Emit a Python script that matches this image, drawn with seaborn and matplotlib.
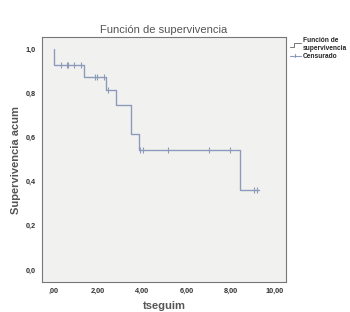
import numpy as np
import pandas as pd
import matplotlib
matplotlib.use("Agg")
import matplotlib.pyplot as plt
import seaborn as sns
from matplotlib.lines import Line2D
from matplotlib.legend_handler import HandlerBase

# Data
event_times = [0.0, 0.0, 1.35, 2.37, 2.79, 3.51, 3.83, 8.43, 9.27]
surv_values = [1.0, 0.929, 0.876, 0.815, 0.747, 0.614, 0.542, 0.36, 0.36]
censor_times = [0.32, 0.59, 0.65, 0.90, 1.22, 1.85, 1.93, 2.27, 2.45,
                3.91, 4.03, 5.18, 7.04, 7.96, 9.04, 9.18]
x_ticks = [0, 2, 4, 6, 8, 10]
x_labels = [",00", "2,00", "4,00", "6,00", "8,00", "10,00"]
y_ticks = [0.0, 0.2, 0.4, 0.6, 0.8, 1.0]
y_labels = ["0,0", "0,2", "0,4", "0,6", "0,8", "1,0"]

sns.set_style("white")
plt.rcParams['font.family'] = ['Liberation Sans', 'DejaVu Sans']

line_color = "#8c9bbb"

fig = plt.figure(figsize=(3.5, 3.12), dpi=100)
ax = fig.add_axes([0.12, 0.096, 0.697, 0.785])
ax.set_facecolor("#f1f1ef")

df = pd.DataFrame({"t": event_times, "s": surv_values})
sns.lineplot(data=df, x="t", y="s", drawstyle="steps-post", color=line_color,
             lw=1.0, ax=ax, sort=False, estimator=None)

# censored marks at survival level at their time
et = np.array(event_times)
sv = np.array(surv_values)
cy = [sv[np.searchsorted(et, c, side="right") - 1] for c in censor_times]
cdf = pd.DataFrame({"t": censor_times, "s": cy})
sns.scatterplot(data=cdf, x="t", y="s", marker="|", s=18, color=line_color,
                linewidth=0.8, ax=ax, zorder=3)

ax.set_xlim(-0.54, 10.5)
ax.set_ylim(-0.055, 1.055)
ax.set_xticks(x_ticks)
ax.set_xticklabels(x_labels)
ax.set_yticks(y_ticks)
ax.set_yticklabels(y_labels)
ax.tick_params(axis="both", labelsize=5.3, colors="#333333", length=2.5, width=0.6,
               direction="out", pad=2)
for lab in ax.get_xticklabels() + ax.get_yticklabels():
    lab.set_fontweight("bold")
for sp in ax.spines.values():
    sp.set_color("#777777")
    sp.set_linewidth(0.8)

ax.set_xlabel("tseguim", fontsize=8, color="#555555", fontweight="bold", labelpad=4)
ax.set_ylabel("Supervivencia acum", fontsize=8, color="#555555", fontweight="bold",
              labelpad=3)
ax.set_title("Función de supervivencia", fontsize=8, color="#555555", pad=3)


class StepHandler(HandlerBase):
    def create_artists(self, legend, orig_handle, xdescent, ydescent, width,
                       height, fontsize, trans):
        xs = [0, 0.35 * width, 0.35 * width, width]
        ys = [0.1 * height, 0.1 * height, 0.9 * height, 0.9 * height]
        l = Line2D(xs, ys, color="#777777", lw=0.7, transform=trans)
        return [l]


class CensorHandler(HandlerBase):
    def create_artists(self, legend, orig_handle, xdescent, ydescent, width,
                       height, fontsize, trans):
        l1 = Line2D([0, width], [0.5 * height] * 2, color=line_color, lw=0.8,
                    transform=trans)
        l2 = Line2D([0.5 * width] * 2, [0.15 * height, 0.85 * height],
                    color=line_color, lw=0.8, transform=trans)
        return [l1, l2]


h1 = Line2D([], [])
h2 = Line2D([], [], marker="|")
leg = fig.legend([h1, h2], ["Función de\nsupervivencia", "Censurado"],
                 handler_map={h1: StepHandler(), h2: CensorHandler()},
                 loc="upper left", bbox_to_anchor=(0.815, 0.895),
                 frameon=False, prop={"size": 4.8, "weight": "bold"},
                 handlelength=1.6, handletextpad=0.3, labelspacing=0.1,
                 borderpad=0.2)

fig.savefig("out.png", dpi=100, facecolor="white")
